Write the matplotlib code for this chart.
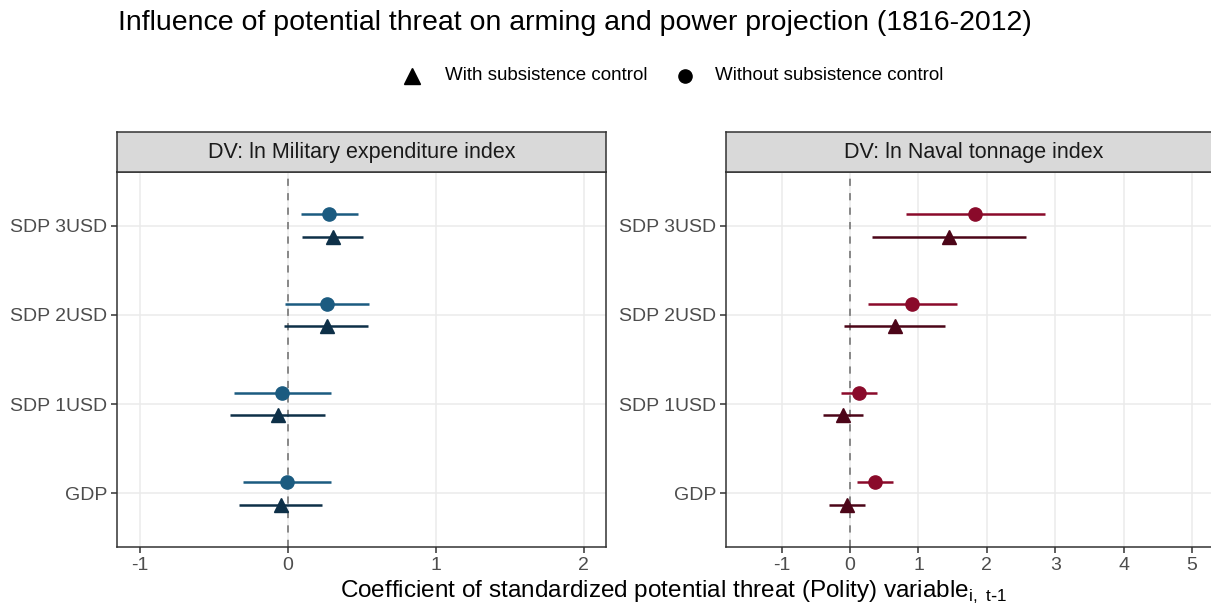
import matplotlib
matplotlib.use("Agg")
import matplotlib.pyplot as plt
from matplotlib.lines import Line2D
import numpy as np

plt.rcParams['font.family'] = ['Liberation Sans', 'DejaVu Sans']

categories = ["GDP", "SDP 1USD", "SDP 2USD", "SDP 3USD"]

# military expenditure index: estimates and interval bounds
mil_with_est = [-0.049, -0.07, 0.261, 0.303]
mil_with_lo = [-0.33, -0.393, -0.025, 0.094]
mil_with_hi = [0.231, 0.254, 0.544, 0.506]
mil_without_est = [-0.007, -0.04, 0.265, 0.279]
mil_without_lo = [-0.303, -0.364, -0.02, 0.09]
mil_without_hi = [0.288, 0.288, 0.546, 0.472]

# naval tonnage index
nav_with_est = [-0.039, -0.107, 0.659, 1.444]
nav_with_lo = [-0.302, -0.39, -0.088, 0.317]
nav_with_hi = [0.22, 0.185, 1.395, 2.576]
nav_without_est = [0.361, 0.132, 0.912, 1.829]
nav_without_lo = [0.098, -0.127, 0.268, 0.82]
nav_without_hi = [0.629, 0.39, 1.566, 2.844]

legend_labels = ["With subsistence control", "Without subsistence control"]

W, H = 1211, 610
fig = plt.figure(figsize=(W / 100, H / 100), dpi=100)


def px_axes(x0, y0, x1, y1):
    return fig.add_axes([x0 / W, 1 - y1 / H, (x1 - x0) / W, (y1 - y0) / H])


def panel(x0, x1, xlim, xticks, title, est_with, lo_with, hi_with,
          est_wo, lo_wo, hi_wo, col_with, col_wo):
    ax = px_axes(x0, 172, x1, 547)
    strip = px_axes(x0, 132, x1, 172)
    strip.set_facecolor('#d9d9d9')
    strip.set_xticks([])
    strip.set_yticks([])
    for s in strip.spines.values():
        s.set_color('#333333')
        s.set_linewidth(1.1)
    strip.text(0.5, 0.48, title, ha='center', va='center', fontsize=15.5,
               color='#1a1a1a', transform=strip.transAxes)

    y = np.arange(1, len(categories) + 1)
    ax.set_xlim(*xlim)
    ax.set_ylim(0.4, 4.6)
    ax.set_xticks(xticks)
    ax.set_xticklabels([str(t) for t in xticks])
    ax.set_yticks(y)
    ax.set_yticklabels(categories)
    ax.grid(True, color='#ebebeb', linewidth=1.1, zorder=0)
    ax.set_axisbelow(True)
    for s in ax.spines.values():
        s.set_color('#333333')
        s.set_linewidth(1.1)
    ax.tick_params(colors='#333333', labelcolor='#4d4d4d', labelsize=14,
                   length=4, width=1.1, pad=3)

    ax.axvline(0, color='#808080', linestyle=(0, (4, 4)), linewidth=1.3, zorder=1)

    yw = y + 0.125
    yt = y - 0.125
    ax.hlines(yw, lo_wo, hi_wo, color=col_wo, linewidth=1.8, zorder=2)
    ax.plot(est_wo, yw, 'o', color=col_wo, markersize=9.5, zorder=3)
    ax.hlines(yt, lo_with, hi_with, color=col_with, linewidth=1.8, zorder=2)
    ax.plot(est_with, yt, '^', color=col_with, markersize=10.5, zorder=3)
    return ax


panel(117, 606, (-1.155, 2.15), [-1, 0, 1, 2],
      "DV: ln Military expenditure index",
      mil_with_est, mil_with_lo, mil_with_hi,
      mil_without_est, mil_without_lo, mil_without_hi,
      '#0e3048', '#1b5b80')

panel(726, 1222, (-1.815, 5.44), [-1, 0, 1, 2, 3, 4, 5],
      "DV: ln Naval tonnage index",
      nav_with_est, nav_with_lo, nav_with_hi,
      nav_without_est, nav_without_lo, nav_without_hi,
      '#4c0518', '#8a0a2a')

fig.text(118 / W, 1 - 23 / H,
         "Influence of potential threat on arming and power projection (1816-2012)",
         ha='left', va='center', fontsize=20.5, color='black')

# legend drawn by hand in figure coordinates
leg_y = 1 - 76 / H
fig.add_artist(Line2D([412 / W], [leg_y], marker='^', color='black',
                      markersize=11, linestyle='none', transform=fig.transFigure))
fig.text(445 / W, leg_y, legend_labels[0], ha='left', va='center', fontsize=13.5)
fig.add_artist(Line2D([685 / W], [leg_y], marker='o', color='black',
                      markersize=9.5, linestyle='none', transform=fig.transFigure))
fig.text(715 / W, leg_y, legend_labels[1], ha='left', va='center', fontsize=13.5)

fig.text(340 / W, 1 - 592 / H,
         r"Coefficient of standardized potential threat (Polity) variable$_{\mathregular{i,\ t\text{-}1}}$",
         ha='left', va='center', fontsize=17.5, color='black')

fig.savefig("out.png", dpi=100)
